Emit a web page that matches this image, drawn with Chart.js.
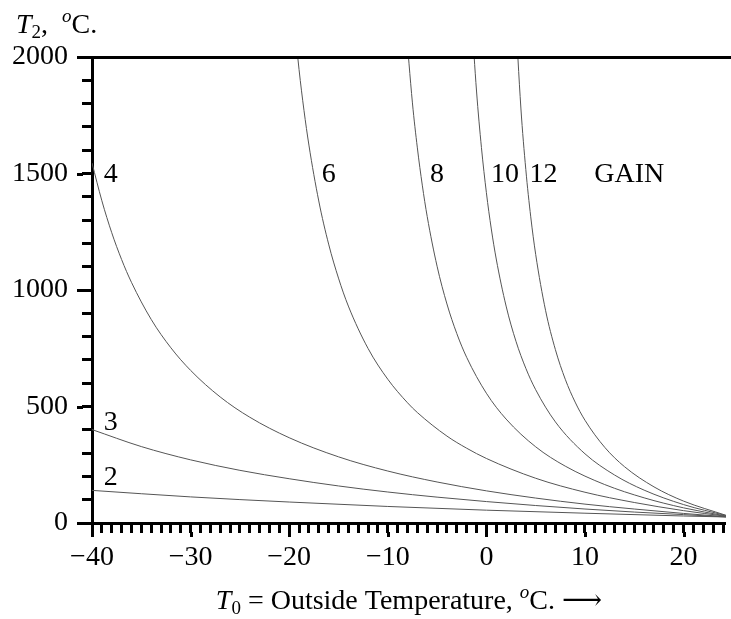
<!DOCTYPE html>
<html>
<head>
<meta charset="utf-8">
<script src="https://cdn.jsdelivr.net/npm/chart.js@4.4.1/dist/chart.umd.min.js"></script>
<style>
  html, body { margin: 0; padding: 0; background: #fff; }
</style>
</head>
<body>
<canvas id="gainChart" width="731" height="619"></canvas>
<script>
// outside temperature T0 (°C) and required source temperature T2 (°C), one pair per gain
const gain2T0 = [-40, -30, -20, -10, 0, 10, 20, 24.3];
const gain2T2 = [140, 112, 90, 71, 55, 42, 30, 26];

const gain3T0 = [-40, -35, -30, -25, -20, -15, -10, -5, 0, 5, 10, 15, 20, 24.3];
const gain3T2 = [401, 328, 271, 226, 190, 159, 133, 111, 92, 75, 60, 47, 36, 26];

const gain4T0 = [-40, -39, -38, -37, -36, -34, -32, -30, -27, -24, -20, -15, -10, -5, 0, 5, 10, 15, 20, 24.3];
const gain4T2 = [1545, 1383, 1246, 1131, 1033, 874, 752, 655, 541, 454, 366, 284, 223, 176, 138, 107, 81, 60, 41, 27];

const gain6T0 = [-19.5, -19, -18.5, -18, -17, -16, -15, -14, -12, -10, -8, -7, -4, -2, 0, 5, 10, 15, 20, 24.3];
const gain6T2 = [2155, 1946, 1771, 1622, 1382, 1197, 1051, 931, 749, 617, 516, 474, 373, 321, 277, 192, 132, 88, 53, 29];

const gain8T0 = [-8.2, -7.5, -7, -6.5, -6, -5, -4, -3, -2, 0, 2, 5, 8, 12, 16, 20, 24.3];
const gain8T2 = [2154, 1803, 1610, 1450, 1315, 1102, 940, 813, 711, 557, 446, 327, 244, 165, 108, 65, 30];

const gain10T0 = [-1.5, -1, -0.5, 0, 0.5, 1, 2, 3, 4, 5, 7, 10, 13, 16, 20, 24.3];
const gain10T2 = [2170, 1854, 1611, 1418, 1262, 1133, 931, 780, 664, 572, 434, 297, 206, 141, 79, 32];

const gain12T0 = [2.9, 3.5, 4, 4.5, 5, 6, 7, 8, 9, 10, 12, 14, 17, 20, 24.3];
const gain12T2 = [2225, 1781, 1517, 1314, 1153, 913, 744, 617, 519, 441, 325, 242, 155, 94, 33];

const xTicksLabelled = [-40, -30, -20, -10, 0, 10, 20];
const yTicksLabelled = [0, 500, 1000, 1500, 2000];

// text written next to the curves, in data coordinates
const curveNotes = [
  { text: '4', x: -38.1, y: 1495 },
  { text: '6', x: -16.0, y: 1495 },
  { text: '8', x: -5.0, y: 1495 },
  { text: '10', x: 1.9, y: 1495 },
  { text: '12', x: 5.8, y: 1495 },
  { text: 'GAIN', x: 14.5, y: 1495 },
  { text: '3', x: -38.1, y: 430 },
  { text: '2', x: -38.1, y: 193 }
];

const FONT = '"Liberation Serif", "DejaVu Serif", serif';

function toPoints(xs, ys) {
  return xs.map((x, i) => ({ x: x, y: ys[i] }));
}

function curve(xs, ys) {
  return {
    data: toPoints(xs, ys),
    borderColor: '#555',
    borderWidth: 1,
    pointRadius: 0,
    fill: false,
    cubicInterpolationMode: 'monotone'
  };
}

// draw a run of text pieces (italic letters, sub/superscripts) one after another
function drawPieces(ctx, pieces, x, baseline, align) {
  let total = 0;
  pieces.forEach(p => {
    ctx.font = (p.italic ? 'italic ' : '') + p.size + 'px ' + FONT;
    p.w = ctx.measureText(p.t).width;
    total += p.w;
  });
  let cx = align === 'center' ? x - total / 2 : x;
  ctx.textAlign = 'left';
  ctx.textBaseline = 'alphabetic';
  pieces.forEach(p => {
    ctx.font = (p.italic ? 'italic ' : '') + p.size + 'px ' + FONT;
    ctx.fillText(p.t, cx, baseline + (p.dy || 0));
    cx += p.w;
  });
}

const decorations = {
  id: 'decorations',
  afterDraw(chart) {
    const ctx = chart.ctx;
    const area = chart.chartArea;
    const xs = chart.scales.x;
    const ys = chart.scales.y;
    ctx.save();
    ctx.strokeStyle = '#000';
    ctx.lineWidth = 3;

    // top frame line, runs from the 2000 tick to the right edge
    const top = Math.round(ys.getPixelForValue(2000)) + 0.5;
    ctx.beginPath();
    ctx.moveTo(area.left - 15, top);
    ctx.lineTo(chart.width, top);
    ctx.stroke();

    // longer ticks at the labelled values
    yTicksLabelled.forEach(v => {
      const py = Math.round(ys.getPixelForValue(v)) + 0.5;
      ctx.beginPath();
      ctx.moveTo(area.left - 15, py);
      ctx.lineTo(area.left - 9, py);
      ctx.stroke();
    });
    xTicksLabelled.forEach(v => {
      const px = Math.round(xs.getPixelForValue(v)) + 0.5;
      ctx.beginPath();
      ctx.moveTo(px, area.bottom + 9);
      ctx.lineTo(px, area.bottom + 14);
      ctx.stroke();
    });

    ctx.fillStyle = '#000';
    ctx.font = '28px ' + FONT;
    ctx.textAlign = 'center';
    ctx.textBaseline = 'middle';
    curveNotes.forEach(n => {
      ctx.fillText(n.text, xs.getPixelForValue(n.x), ys.getPixelForValue(n.y));
    });

    drawPieces(ctx, [
      { t: 'T', italic: true, size: 28 },
      { t: '2', size: 19, dy: 5 },
      { t: ',  ', size: 28 },
      { t: 'o', italic: true, size: 19, dy: -11 },
      { t: 'C.', size: 28 }
    ], 16, 33, 'left');

    drawPieces(ctx, [
      { t: 'T', italic: true, size: 28 },
      { t: '0', size: 19, dy: 5 },
      { t: ' = Outside Temperature, ', size: 28 },
      { t: 'o', italic: true, size: 19, dy: -11 },
      { t: 'C. \u27F6', size: 28 }
    ], (area.left + area.right) / 2, 609, 'center');

    ctx.restore();
  }
};

new Chart(document.getElementById('gainChart'), {
  type: 'line',
  data: {
    datasets: [
      curve(gain2T0, gain2T2),
      curve(gain3T0, gain3T2),
      curve(gain4T0, gain4T2),
      curve(gain6T0, gain6T2),
      curve(gain8T0, gain8T2),
      curve(gain10T0, gain10T2),
      curve(gain12T0, gain12T2)
    ]
  },
  options: {
    responsive: false,
    animation: false,
    devicePixelRatio: 1,
    layout: { padding: { top: 57, right: 0, left: 0, bottom: 0 } },
    plugins: { legend: { display: false }, tooltip: { enabled: false } },
    scales: {
      x: {
        type: 'linear',
        min: -40,
        max: 24.3,
        afterFit(scale) { scale.height = 96; },
        border: { display: true, color: '#000', width: 3 },
        grid: { drawOnChartArea: false, drawTicks: true, tickLength: 10, tickWidth: 3, tickColor: '#000' },
        ticks: {
          stepSize: 1,
          includeBounds: false,
          autoSkip: false,
          maxRotation: 0,
          padding: 8,
          color: '#000',
          font: { family: FONT, size: 28 },
          callback: v => (v % 10 === 0 ? (v < 0 ? '\u2212' + Math.abs(v) : String(v)) : '')
        }
      },
      y: {
        min: 0,
        max: 2000,
        afterFit(scale) { scale.width = 92; },
        border: { display: true, color: '#000', width: 3 },
        grid: { drawOnChartArea: false, drawTicks: true, tickLength: 10, tickWidth: 3, tickColor: '#000' },
        ticks: {
          stepSize: 100,
          autoSkip: false,
          padding: 14,
          color: '#000',
          font: { family: FONT, size: 28 },
          callback: v => (v % 500 === 0 ? String(v) : '')
        }
      }
    }
  },
  plugins: [decorations]
});
</script>
</body>
</html>
